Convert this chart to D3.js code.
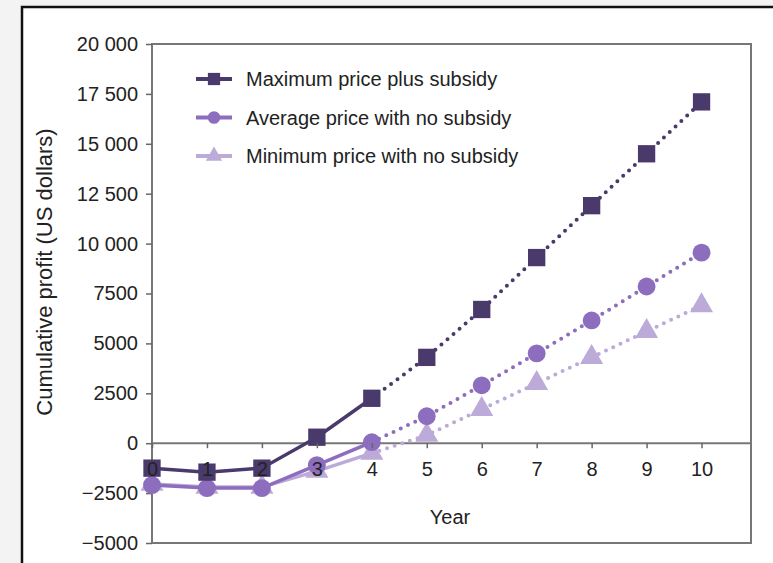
<!DOCTYPE html>
<html lang="en">
  <head>
    <meta charset="utf-8">
    <title>Cumulative profit</title>
    <script type="text/javascript" src="https://cdn.jsdelivr.net/npm/d3@7"></script>
    <style>
      body { margin: 0; background: #f3f3f3; }
      svg { display: block; }
      text { font-family: "Liberation Sans", Arial, Helvetica, sans-serif; fill: #222; }
    </style>
  </head>
  <body>
    <script type="text/javascript">
      var w = 773;
      var h = 563;

      // data
      var years = [0, 1, 2, 3, 4, 5, 6, 7, 8, 9, 10];
      var maxSubsidy = [-1250, -1450, -1250, 300, 2250, 4300, 6700, 9300, 11900, 14500, 17100];
      var avgNoSubsidy = [-2100, -2250, -2250, -1100, 50, 1350, 2900, 4500, 6150, 7850, 9550];
      var minNoSubsidy = [-2050, -2200, -2200, -1400, -500, 400, 1700, 3000, 4300, 5600, 6900];
      var seriesNames = ["Maximum price plus subsidy", "Average price with no subsidy", "Minimum price with no subsidy"];
      var yTicks = [-5000, -2500, 0, 2500, 5000, 7500, 10000, 12500, 15000, 17500, 20000];
      var yTickLabels = ["\u22125000", "\u22122500", "0", "2500", "5000", "7500", "10 000", "12 500", "15 000", "17 500", "20 000"];
      var solidUntil = 4; // solid line up to year 4, dotted after

      var colors = ["#4a3a6c", "#8d6dbd", "#bcaad9"];
      var shapes = [d3.symbolSquare, d3.symbolCircle, d3.symbolTriangle];
      var sizes = [300, 250, 230];

      var svg = d3.select("body")
        .append("svg")
        .attr("width", w)
        .attr("height", h);

      // outer frame
      svg.append("rect")
        .attr("x", 22).attr("y", 7)
        .attr("width", w).attr("height", h)
        .attr("fill", "white")
        .attr("stroke", "#111")
        .attr("stroke-width", 2.5);

      var plotLeft = 152, plotRight = 751, plotTop = 44, plotBottom = 543;

      var xScale = d3.scaleLinear().domain([0, 10.9]).range([plotLeft, plotRight]);
      var yScale = d3.scaleLinear().domain([-5000, 20000]).range([plotBottom, plotTop]);

      // plot box
      svg.append("rect")
        .attr("x", plotLeft).attr("y", plotTop)
        .attr("width", plotRight - plotLeft).attr("height", plotBottom - plotTop)
        .attr("fill", "none")
        .attr("stroke", "#777")
        .attr("stroke-width", 2);

      var yAxis = d3.axisLeft(yScale)
        .tickValues(yTicks)
        .tickSize(6)
        .tickPadding(8)
        .tickFormat(function(d, i) { return yTickLabels[i]; });

      var gy = svg.append("g")
        .attr("transform", "translate(" + plotLeft + ",0)")
        .call(yAxis);
      gy.select(".domain").remove();
      gy.selectAll("line").attr("stroke", "#666").attr("stroke-width", 1.5);
      gy.selectAll("text").style("font-size", "20px").attr("fill", "#222");

      // zero line
      svg.append("line")
        .attr("x1", plotLeft).attr("x2", plotRight)
        .attr("y1", yScale(0)).attr("y2", yScale(0))
        .attr("stroke", "#777")
        .attr("stroke-width", 2);

      var all = [maxSubsidy, avgNoSubsidy, minNoSubsidy];
      var line = d3.line()
        .x(function(d) { return xScale(d[0]); })
        .y(function(d) { return yScale(d[1]); });

      // draw lightest series first
      for (var s = all.length - 1; s >= 0; s--) {
        var pts = years.map(function(y, i) { return [y, all[s][i]]; });
        svg.append("path")
          .attr("d", line(pts.filter(function(p) { return p[0] <= solidUntil; })))
          .attr("fill", "none")
          .attr("stroke", colors[s])
          .attr("stroke-width", 3.5);
        svg.append("path")
          .attr("d", line(pts.filter(function(p) { return p[0] >= solidUntil; })))
          .attr("fill", "none")
          .attr("stroke", colors[s])
          .attr("stroke-width", 4)
          .attr("stroke-linecap", "round")
          .attr("stroke-dasharray", "0,8");
        svg.append("g").selectAll("path")
          .data(pts)
          .enter()
          .append("path")
          .attr("d", d3.symbol().type(shapes[s]).size(sizes[s]))
          .attr("transform", function(d) { return "translate(" + xScale(d[0]) + "," + yScale(d[1]) + ")"; })
          .attr("fill", colors[s]);
      }

      var xAxis = d3.axisBottom(xScale)
        .tickValues(years)
        .tickSize(5)
        .tickPadding(14)
        .tickFormat(d3.format("d"));

      var gx = svg.append("g")
        .attr("transform", "translate(0," + yScale(0) + ")")
        .call(xAxis);
      gx.select(".domain").remove();
      gx.selectAll("line").attr("stroke", "#666").attr("stroke-width", 1.5);
      gx.selectAll("text").style("font-size", "20px").attr("fill", "#222");

      svg.append("text")
        .attr("x", 450)
        .attr("y", 524)
        .attr("text-anchor", "middle")
        .style("font-size", "20px")
        .text("Year");

      svg.append("text")
        .attr("transform", "rotate(-90)")
        .attr("x", -272)
        .attr("y", 52)
        .attr("text-anchor", "middle")
        .style("font-size", "22px")
        .text("Cumulative profit (US dollars)");

      // legend
      var legend = svg.append("g");
      seriesNames.forEach(function(name, i) {
        var ly = 79 + i * 38.5;
        legend.append("line")
          .attr("x1", 196).attr("x2", 232)
          .attr("y1", ly).attr("y2", ly)
          .attr("stroke", colors[i])
          .attr("stroke-width", 4);
        legend.append("path")
          .attr("d", d3.symbol().type(shapes[i]).size(sizes[i] * 0.5))
          .attr("transform", "translate(214," + ly + ")")
          .attr("fill", colors[i]);
        legend.append("text")
          .attr("x", 246)
          .attr("y", ly)
          .attr("dy", "0.35em")
          .style("font-size", "20px")
          .text(name);
      });
    </script>
  </body>
</html>
